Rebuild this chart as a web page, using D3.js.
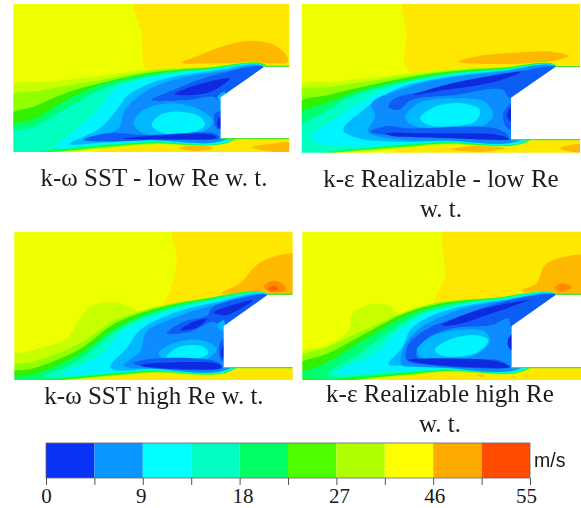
<!DOCTYPE html>
<html>
<head>
<meta charset="utf-8">
<script src="https://cdn.jsdelivr.net/npm/d3@7"></script>
<style>
  html, body { margin: 0; background: #fff; }
  svg { display: block; }
  text { fill: #1a1a1a; }
</style>
</head>
<body>
<svg id="chart" width="581" height="508"></svg>
<script>
// velocity bands seen in the flow field, slowest first
const fieldColors = ["#0a2ce0", "#0a5cf5", "#0a8cff", "#00b8ff", "#00f4ff", "#00ffc0", "#00ff70",
  "#30f000", "#90ff00", "#c8ff00", "#eeff00", "#ffe800", "#ffb800", "#ff8a00", "#ff6000"];

const legendColors = ["#0a32f5", "#0a96ff", "#00ffff", "#00ffc0", "#00ff66", "#4dff00", "#b0ff00", "#ffff00", "#ffaa00", "#ff4c00"];
const legendLabels = ["0", "", "9", "", "18", "", "27", "", "46", "", "55"];
const legendUnit = "m/s";

const captionA = ["k-ω SST - low Re w. t."];
const captionB = ["k-ε Realizable - low Re", "w. t."];
const captionC = ["k-ω SST high Re w. t."];
const captionD = ["k-ε Realizable high Re", "w. t."];

// iso-velocity outlines: [band, outline]
const contoursA = [
  [11, [[405,0],[900,0],[900,205],[440,205],[430,190],[425,100]]],
  [11, [[280,470],[880,470],[880,425],[660,425],[450,432],[300,445]]],
  [12, [[545,188],[600,165],[680,135],[750,122],[810,130],[850,155],[865,185],[800,190],[650,190]]],
  [12, [[535,445],[590,435],[640,445],[590,453]]],
  [12, [[755,442],[810,432],[880,430],[880,455],[800,453]]],
  [9, [[25,262],[150,245],[300,228],[450,208],[620,200],[800,196],[820,300],[700,423],[450,434],[300,446],[150,462],[30,470]]],
  [8, [[30,290],[120,272],[300,240],[450,212],[620,202],[800,197],[800,300],[700,422],[450,432],[300,444],[150,458],[30,466]]],
  [7, [[30,345],[100,320],[200,278],[300,250],[450,218],[620,204],[800,198],[790,300],[700,421],[450,430],[300,442],[150,456],[30,462]]],
  [6, [[30,380],[100,358],[200,300],[300,255],[450,222],[620,206],[795,199],[780,300],[700,420],[450,428],[300,440],[150,454],[30,460]]],
  [5, [[30,395],[100,382],[220,312],[320,262],[450,228],[620,208],[795,200],[780,300],[700,419],[450,426],[300,436],[170,448],[30,452]]],
  [4, [[170,438],[240,380],[300,320],[340,272],[450,232],[620,210],[795,200],[780,300],[700,418],[450,424],[300,432],[200,441]]],
  [3, [[210,432],[300,385],[350,330],[385,285],[480,240],[640,212],[790,201],[770,300],[680,417],[450,421],[300,428]]],
  [2, [[250,420],[355,385],[375,330],[445,270],[540,235],[660,215],[785,202],[770,300],[680,417],[450,420],[300,425]]],
  [3, [[400,370],[430,330],[520,310],[600,330],[640,365],[600,400],[480,405],[420,395]]],
  [4, [[455,375],[480,345],[540,335],[600,350],[615,375],[570,400],[490,400]]],
  [1, [[455,300],[520,270],[620,232],[790,200],[662,300],[640,290],[560,300]]],
  [3, [[652,292],[675,275],[668,305]]],
  [1, [[250,420],[320,400],[440,405],[640,400],[660,415],[450,419],[300,424]]],
  [1, [[645,340],[675,335],[675,385],[650,385]]],
  [0, [[525,282],[590,255],[690,235],[640,272],[580,285]]],
  [0, [[370,416],[450,408],[640,405],[650,413],[450,418]]],
  [0, [[655,355],[675,350],[675,385],[655,382]]]
];
const contoursB = [
  [11, [[330,0],[880,0],[880,205],[340,212],[335,100]]],
  [11, [[300,475],[880,475],[880,428],[640,428],[450,434],[300,448]]],
  [12, [[490,185],[540,170],[660,158],[770,155],[820,168],[780,182],[600,192]]],
  [12, [[468,448],[540,438],[630,445],[560,456]]],
  [12, [[795,445],[830,434],[880,434],[880,456],[830,456]]],
  [9, [[10,258],[120,245],[300,225],[450,208],[620,200],[785,196],[800,300],[700,425],[450,434],[300,446],[150,458],[10,470]]],
  [8, [[10,275],[100,262],[300,232],[450,212],[620,202],[785,197],[790,300],[700,424],[450,432],[300,444],[150,456],[10,466]]],
  [7, [[10,310],[100,285],[300,240],[450,216],[620,204],[785,198],[780,300],[700,423],[450,430],[300,442],[150,454],[10,462]]],
  [6, [[10,345],[90,310],[200,270],[300,246],[450,220],[620,206],[785,199],[780,300],[700,422],[450,428],[300,440],[150,452],[10,458]]],
  [5, [[10,385],[80,340],[180,285],[300,252],[450,224],[620,208],[785,200],[780,300],[700,421],[450,426],[300,436],[170,447],[10,452]]],
  [4, [[50,405],[100,370],[190,310],[300,258],[450,228],[620,210],[785,200],[770,300],[700,420],[450,424],[300,432],[180,440],[70,430]]],
  [3, [[145,390],[205,330],[310,265],[450,232],[620,212],[785,201],[770,300],[680,419],[450,422],[300,425],[190,415]]],
  [2, [[220,395],[240,350],[230,310],[330,265],[450,235],[620,215],[780,202],[770,300],[680,418],[450,421],[300,418]]],
  [3, [[330,355],[370,310],[470,295],[570,305],[595,345],[560,380],[440,385],[360,378]]],
  [4, [[375,355],[420,320],[500,310],[555,330],[540,365],[470,378],[400,375]]],
  [1, [[225,395],[280,378],[340,385],[600,385],[640,410],[450,415]]],
  [1, [[280,320],[300,295],[380,275],[480,255],[620,225],[785,202],[648,295],[620,268],[480,285],[350,300],[310,330]]],
  [1, [[625,340],[650,310],[650,390],[630,375]]],
  [0, [[355,285],[450,255],[600,225],[680,215],[600,245],[450,270]]],
  [0, [[270,400],[400,400],[610,405],[645,418],[400,412],[290,408]]],
  [0, [[637,340],[650,320],[650,365],[640,358]]]
];
const contoursC = [
  [11, [[520,0],[900,0],[900,205],[720,205],[490,240],[510,200],[530,100]]],
  [11, [[300,475],[890,475],[890,436],[670,434],[450,440],[250,460]]],
  [12, [[665,205],[720,175],[770,120],[820,95],[900,90],[900,205],[800,207]]],
  [13, [[792,185],[815,168],[845,175],[858,195],[810,200]]],
  [14, [[805,190],[820,182],[835,190],[815,198]]],
  [9, [[10,400],[100,375],[200,340],[240,280],[270,245],[340,232],[400,250],[420,265],[520,240],[650,220],[805,207],[810,300],[700,436],[450,445],[250,462],[10,480]]],
  [8, [[10,425],[100,410],[240,355],[340,288],[450,250],[600,222],[805,208],[800,300],[700,435],[450,443],[250,460],[10,478]]],
  [7, [[10,445],[100,430],[240,372],[345,295],[455,254],[600,224],[805,208],[800,300],[700,434],[450,441],[250,458],[10,470]]],
  [6, [[30,460],[100,448],[225,395],[355,305],[465,258],[600,226],[805,209],[790,300],[700,433],[450,439],[250,455],[60,465]]],
  [5, [[130,455],[230,410],[360,310],[470,262],[600,230],[805,209],[780,300],[700,432],[450,437],[250,452],[160,460]]],
  [4, [[190,450],[300,390],[370,320],[480,268],[620,232],[805,210],[780,300],[700,431],[450,434],[300,445]]],
  [3, [[330,425],[380,370],[420,315],[500,272],[630,235],[803,211],[780,300],[690,430],[450,431],[350,436]]],
  [2, [[370,420],[420,380],[440,320],[520,280],[640,240],[800,212],[780,300],[690,430],[450,430],[390,428]]],
  [3, [[475,385],[520,355],[600,345],[650,370],[610,410],[510,415]]],
  [4, [[500,395],[540,365],[610,365],[625,385],[570,408],[520,408]]],
  [1, [[500,325],[550,290],[620,272],[640,245],[805,210],[671,303],[640,290],[570,320]]],
  [3, [[650,303],[672,285],[672,318]]],
  [1, [[400,415],[470,400],[650,410],[665,428],[450,428]]],
  [1, [[658,360],[672,340],[672,410],[660,400]]],
  [0, [[540,315],[580,290],[620,282],[590,308]]],
  [0, [[640,262],[760,225],[680,270]]],
  [0, [[420,420],[480,413],[660,418],[665,428],[450,427]]],
  [0, [[665,370],[672,360],[672,400],[665,395]]]
];
const contoursD = [
  [11, [[455,0],[880,0],[880,205],[700,205],[420,245],[450,150]]],
  [11, [[280,475],[880,475],[880,435],[650,432],[450,438],[250,458]]],
  [12, [[680,197],[725,175],[750,120],[810,95],[880,95],[880,205],[780,207]]],
  [13, [[780,188],[800,175],[830,187],[800,200]]],
  [12, [[545,452],[565,449],[568,455]]],
  [9, [[10,385],[100,360],[165,310],[170,270],[220,240],[280,240],[310,265],[400,245],[560,225],[785,208],[790,300],[700,433],[450,442],[250,460],[10,475]]],
  [8, [[10,400],[100,365],[220,310],[320,265],[430,232],[600,218],[785,209],[780,300],[700,432],[450,440],[250,458],[10,472]]],
  [7, [[10,420],[100,385],[230,315],[330,265],[440,235],[600,219],[785,209],[780,300],[700,431],[450,438],[250,456],[10,468]]],
  [6, [[10,450],[90,415],[240,325],[340,270],[450,238],[600,220],[785,209],[780,300],[700,430],[450,436],[250,453],[60,462]]],
  [5, [[95,450],[200,380],[300,310],[380,265],[470,240],[600,222],[785,210],[770,300],[700,429],[450,434],[250,448],[130,456]]],
  [4, [[125,445],[240,385],[320,310],[390,268],[480,243],[610,224],[785,210],[770,300],[700,428],[450,431],[280,440]]],
  [3, [[280,418],[320,370],[350,310],[410,272],[490,247],[620,226],[783,211],[770,300],[680,428],[450,429],[330,424]]],
  [2, [[320,420],[325,370],[375,310],[430,280],[500,252],[620,228],[782,212],[770,300],[680,428],[450,428],[350,424]]],
  [1, [[335,405],[340,360],[400,310],[480,280],[560,250],[650,225],[785,210],[650,305],[640,280],[590,300],[470,310],[390,345],[365,395],[450,410],[610,405],[645,426],[400,420]]],
  [3, [[365,375],[410,335],[490,315],[570,320],[585,350],[540,390],[440,405],[385,400]]],
  [4, [[420,375],[460,345],[540,330],[580,345],[550,380],[480,395],[435,390]]],
  [0, [[340,405],[450,400],[610,410],[645,426],[400,418]]],
  [0, [[440,300],[530,262],[640,235],[700,225],[600,262],[480,300]]],
  [0, [[640,340],[650,330],[650,375],[640,365]]]
];

// solid afterbody outlines; the first and the second pair of points are the walls
const bodyA = [[795,199],[880,199],[880,416],[662,416],[662,292]];
const bodyB = [[782,200],[880,200],[880,419],[648,419],[648,293]];
const bodyC = [[805,208],[890,208],[890,428],[671,428],[671,303]];
const bodyD = [[785,208],[880,208],[880,428],[650,428],[650,303]];
const extentA = [[40,868],[12,456]];
const extentB = [[20,855],[12,458]];
const extentC = [[43,878],[20,465]];
const extentD = [[22,858],[20,465]];

const svg = d3.select("#chart");
const defs = svg.append("defs");
defs.append("filter").attr("id", "soft").append("feGaussianBlur").attr("stdDeviation", 0.7);
defs.append("filter").attr("id", "softText")
  .attr("x", "-5%").attr("y", "-20%").attr("width", "110%").attr("height", "140%")
  .append("feGaussianBlur").attr("stdDeviation", 0.3);

const panels = [
  { id: "a", contours: contoursA, body: bodyA, extent: extentA, box: [13.3, 289.3, 4, 152], caption: captionA, cx: 154, cy: 186 },
  { id: "b", contours: contoursB, body: bodyB, extent: extentB, box: [301.7, 580, 4, 152.7], caption: captionB, cx: 441, cy: 187 },
  { id: "c", contours: contoursC, body: bodyC, extent: extentC, box: [14.3, 292.7, 231.7, 380], caption: captionC, cx: 154, cy: 404 },
  { id: "d", contours: contoursD, body: bodyD, extent: extentD, box: [302.3, 581, 231.7, 380], caption: captionD, cx: 440, cy: 402 }
];

panels.forEach(p => {
  const x = d3.scaleLinear().domain(p.extent[0]).range(p.box.slice(0, 2));
  const y = d3.scaleLinear().domain(p.extent[1]).range(p.box.slice(2, 4));
  const smooth = d3.line().x(d => x(d[0])).y(d => y(d[1])).curve(d3.curveCatmullRomClosed.alpha(0.5));
  const sharp = d3.line().x(d => x(d[0])).y(d => y(d[1])).curve(d3.curveLinearClosed);
  const wall = d3.line().x(d => x(d[0])).y(d => y(d[1]));

  defs.append("clipPath").attr("id", "clip-" + p.id).append("rect")
    .attr("x", p.box[0]).attr("y", p.box[2])
    .attr("width", p.box[1] - p.box[0]).attr("height", p.box[3] - p.box[2]);

  const g = svg.append("g").attr("clip-path", `url(#clip-${p.id})`)
    .append("g").attr("filter", "url(#soft)");

  g.append("rect")
    .attr("x", p.box[0] - 5).attr("y", p.box[2] - 5)
    .attr("width", p.box[1] - p.box[0] + 10).attr("height", p.box[3] - p.box[2] + 10)
    .attr("fill", fieldColors[10]);

  g.selectAll("path.band").data(p.contours).join("path")
    .attr("class", "band")
    .attr("d", d => smooth(d[1]))
    .attr("fill", d => fieldColors[d[0]]);

  g.append("path").attr("d", sharp(p.body)).attr("fill", "#fff");

  g.selectAll("path.wall").data([p.body.slice(0, 2), p.body.slice(2, 4)]).join("path")
    .attr("class", "wall")
    .attr("d", wall)
    .attr("fill", "none")
    .attr("stroke", "#50e030")
    .attr("stroke-width", 1.3);

  const cap = svg.append("text")
    .attr("font-family", "Liberation Serif")
    .attr("font-size", 25)
    .attr("text-anchor", "middle")
    .attr("filter", "url(#softText)");
  p.caption.forEach((line, i) => {
    cap.append("tspan").attr("x", p.cx).attr("y", p.cy + i * 30).text(line);
  });
});

// colour bar
const barTop = 443, barBottom = 478;
const bx = d3.scaleLinear().domain([0, legendColors.length]).range([46, 530]);
const legend = svg.append("g");

legend.selectAll("rect").data(legendColors).join("rect")
  .attr("x", (d, i) => bx(i))
  .attr("y", barTop)
  .attr("width", (d, i) => bx(i + 1) - bx(i))
  .attr("height", barBottom - barTop)
  .attr("fill", d => d);

legend.append("rect")
  .attr("x", bx(0)).attr("y", barTop)
  .attr("width", bx(10) - bx(0)).attr("height", barBottom - barTop)
  .attr("fill", "none").attr("stroke", "#666").attr("stroke-width", 0.8);

const axis = d3.axisBottom(bx)
  .tickValues(d3.range(legendLabels.length))
  .tickFormat(i => legendLabels[i])
  .tickSize(7)
  .tickSizeOuter(0);

const ag = svg.append("g").attr("transform", `translate(0,${barBottom})`).call(axis);
ag.select(".domain").remove();
ag.selectAll("line").attr("stroke", "#555");
ag.selectAll("text")
  .attr("font-family", "Liberation Serif")
  .attr("font-size", 21)
  .attr("y", 10)
  .attr("dy", "0.72em")
  .attr("dx", (d, i) => [0, 0, -2, 0, 3, 0, 2.5, 0, 1, 0, -4][i]);

svg.append("text")
  .attr("x", 534).attr("y", 467)
  .attr("font-family", "Liberation Sans")
  .attr("font-size", 19.5)
  .attr("filter", "url(#softText)")
  .text(legendUnit);
</script>
</body>
</html>
